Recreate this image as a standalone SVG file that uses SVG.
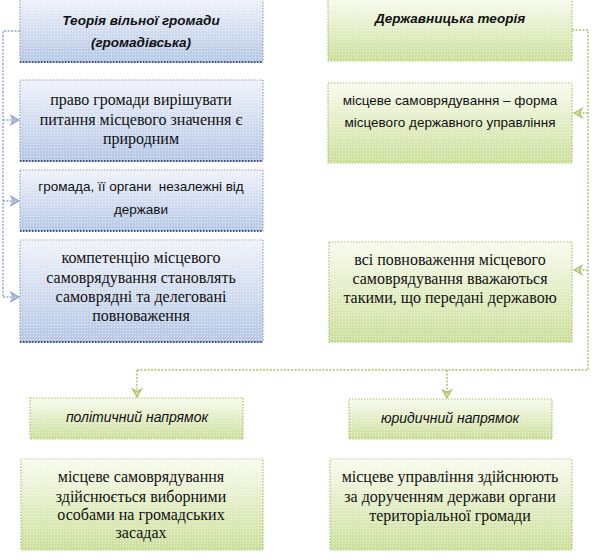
<svg xmlns="http://www.w3.org/2000/svg" width="592" height="560" viewBox="0 0 592 560">
<style>
.bb{fill:url(#gb);stroke:#8fa2cc;stroke-width:1.2;stroke-dasharray:1.5 1.5}
.gbx{fill:url(#gg);stroke:#a9c46a;stroke-width:1.2;stroke-dasharray:1.5 1.5}
.sh{stroke:#3b4f85;stroke-width:2;stroke-dasharray:1.5 1.5;fill:none}
.tex{fill:url(#dots)}
.cb{fill:none;stroke:#8fa2cc;stroke-width:1.4;stroke-dasharray:2 1.5}
.cg{fill:none;stroke:#a9c46a;stroke-width:1.4;stroke-dasharray:2 1.5}
.hd{font-family:"Liberation Sans",Arial,sans-serif;font-weight:bold;font-style:italic;font-size:13.5px;fill:#111;text-anchor:middle}
.it{font-family:"Liberation Sans",Arial,sans-serif;font-style:italic;font-size:14px;fill:#111;text-anchor:middle}
.sf{font-family:"Liberation Serif","Times New Roman",serif;font-size:16px;fill:#111;text-anchor:middle}
.ss{font-family:"Liberation Sans",Arial,sans-serif;font-size:13.5px;fill:#111;text-anchor:middle}
</style>
<defs>
<linearGradient id="gb" x1="0" y1="0" x2="0" y2="1">
<stop offset="0" stop-color="#f0f2fa"/>
<stop offset="1" stop-color="#b5c8e6"/>
</linearGradient>
<linearGradient id="gg" x1="0" y1="0" x2="0" y2="1">
<stop offset="0" stop-color="#f8fbee"/>
<stop offset="1" stop-color="#cddf9c"/>
</linearGradient>
<pattern id="dots" width="3" height="3" patternUnits="userSpaceOnUse">
<rect x="0" y="0" width="1" height="1" fill="#ffffff" fill-opacity="0.6"/>
</pattern>
<marker id="ab" markerWidth="12" markerHeight="12" refX="10" refY="6" orient="auto" markerUnits="userSpaceOnUse">
<path d="M2,1.5 L10,6 L2,10.5 L4.5,6 Z" fill="#b3c3e3" stroke="#8fa2cc" stroke-width="1.2"/>
</marker>
<marker id="ag" markerWidth="12" markerHeight="12" refX="10" refY="6" orient="auto" markerUnits="userSpaceOnUse">
<path d="M2,1.5 L10,6 L2,10.5 L4.5,6 Z" fill="#cfe09f" stroke="#a9c46a" stroke-width="1.2"/>
</marker>
</defs>
<rect width="592" height="560" fill="#ffffff"/>

<g id="connectors">
<path class="cb" d="M20,31 H3 V297"/>
<path class="cb" d="M3,120 H19" marker-end="url(#ab)"/>
<path class="cb" d="M3,201 H19" marker-end="url(#ab)"/>
<path class="cb" d="M3,297 H19" marker-end="url(#ab)"/>
<path class="cg" d="M572,30 H588 V370 H137"/>
<path class="cg" d="M588,113 H574" marker-end="url(#ag)"/>
<path class="cg" d="M588,270 H574" marker-end="url(#ag)"/>
<path class="cg" d="M137,370 V397" marker-end="url(#ag)"/>
<path class="cg" d="M447,370 V398" marker-end="url(#ag)"/>
</g>

<g id="n1">
<rect class="bb" x="20" y="-1" width="243" height="63"/>
<rect class="tex" x="20" y="-1" width="243" height="63"/>
<path class="sh" d="M20,62 H263"/>
<text class="hd" x="141" y="25">Теорія вільної громади</text>
<text class="hd" x="141" y="47">(громадівська)</text>
</g>
<g id="n2">
<rect class="bb" x="20" y="80" width="243" height="81"/>
<rect class="tex" x="20" y="80" width="243" height="81"/>
<path class="sh" d="M20,161 H263"/>
<text class="sf" x="141" y="105">право громади вирішувати</text>
<text class="sf" x="141" y="125">питання місцевого значення є</text>
<text class="sf" x="141" y="144">природним</text>
</g>
<g id="n3">
<rect class="bb" x="20" y="170" width="243" height="61"/>
<rect class="tex" x="20" y="170" width="243" height="61"/>
<path class="sh" d="M20,231 H263"/>
<text class="ss" x="141" y="191">громада, її органи&#160; незалежні від</text>
<text class="ss" x="141" y="214">держави</text>
</g>
<g id="n4">
<rect class="bb" x="20" y="240" width="243" height="102"/>
<rect class="tex" x="20" y="240" width="243" height="102"/>
<path class="sh" d="M20,342 H263"/>
<text class="sf" x="141" y="263">компетенцію місцевого</text>
<text class="sf" x="141" y="283">самоврядування становлять</text>
<text class="sf" x="141" y="302">самоврядні та делеговані</text>
<text class="sf" x="141" y="321">повноваження</text>
</g>

<g id="n5">
<rect class="gbx" x="328" y="-1" width="244" height="62"/>
<rect class="tex" x="328" y="-1" width="244" height="62"/>
<text class="hd" x="450" y="23">Державницька теорія</text>
</g>
<g id="n6">
<rect class="gbx" x="328" y="83" width="244" height="80"/>
<rect class="tex" x="328" y="83" width="244" height="80"/>
<text class="ss" x="450" y="105">місцеве самоврядування – форма</text>
<text class="ss" x="450" y="127">місцевого державного управління</text>
</g>
<g id="n7">
<rect class="gbx" x="329" y="242" width="243" height="100"/>
<rect class="tex" x="329" y="242" width="243" height="100"/>
<text class="sf" x="450" y="265">всі повноваження місцевого</text>
<text class="sf" x="450" y="284">самоврядування вважаються</text>
<text class="sf" x="450" y="303">такими, що передані державою</text>
</g>
<g id="n8">
<rect class="gbx" x="30" y="398" width="213" height="41"/>
<rect class="tex" x="30" y="398" width="213" height="41"/>
<text class="it" x="137" y="422">політичний напрямок</text>
</g>
<g id="n9">
<rect class="gbx" x="349" y="399" width="203" height="40"/>
<rect class="tex" x="349" y="399" width="203" height="40"/>
<text class="it" x="450" y="423">юридичний напрямок</text>
</g>
<g id="n10">
<rect class="gbx" x="21" y="459" width="242" height="91"/>
<rect class="tex" x="21" y="459" width="242" height="91"/>
<text class="sf" x="141" y="482">місцеве самоврядування</text>
<text class="sf" x="141" y="502">здійснюється виборними</text>
<text class="sf" x="141" y="520">особами на громадських</text>
<text class="sf" x="141" y="538">засадах</text>
</g>
<g id="n11">
<rect class="gbx" x="330" y="459" width="242" height="91"/>
<rect class="tex" x="330" y="459" width="242" height="91"/>
<text class="sf" x="450" y="482">місцеве управління здійснюють</text>
<text class="sf" x="450" y="502">за дорученням держави органи</text>
<text class="sf" x="450" y="521">територіальної громади</text>
</g>
</svg>
